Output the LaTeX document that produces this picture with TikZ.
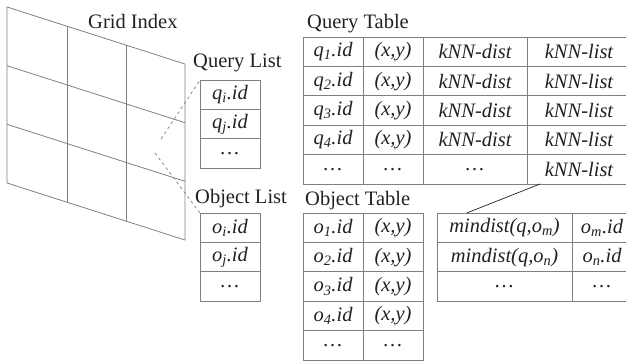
\documentclass[tikz,border=0pt]{standalone}
\usepackage{fontspec}
\setmainfont{Liberation Serif}
\usetikzlibrary{positioning,calc}
\definecolor{linegray}{rgb}{0.5,0.5,0.5}
\definecolor{textgray}{rgb}{0.13,0.13,0.13}

\begin{document}
\begin{tikzpicture}[x=1pt,y=-1pt]
    % Stili per griglia, celle e titoli
    \tikzset{
        gridline/.style={
            draw=linegray, % linee della griglia
            line width=0.8pt
        },
        cell/.style={
            draw=linegray, % bordo della cella
            line width=0.8pt,
            text=textgray,
            minimum height=29.4pt, % altezza della riga
            inner sep=0pt,
            outer sep=0pt,
            font=\fontsize{20.5}{21}\selectfont\itshape
        },
        narrow/.style={cell, minimum width=60pt},
        wide/.style={cell, minimum width=104pt},
        distcell/.style={cell, minimum width=135pt},
        title/.style={
            text=textgray,
            anchor=base west,
            inner sep=0pt,
            font=\fontsize{20.5}{21}\selectfont
        }
    }

    \path[use as bounding box, clip] (0,0) rectangle (626,360);

    % Griglia (indice)
    \draw[gridline] (7,7) -- (185,64) -- (185,240) -- (7,183) -- cycle;
    \draw[gridline] (67,26.2) -- (67,202.2);
    \draw[gridline] (126,45.1) -- (126,221.1);
    \draw[gridline] (7,65.7) -- (185,122.7);
    \draw[gridline] (7,124.3) -- (185,181.3);
    \coordinate (cellq) at (161,139);
    \coordinate (cello) at (155,153);
    \node[title] (grid_name) at (88,28) {Grid Index};

    % Lista delle query
    \node[title] (qlist_name) at (193,67) {Query List};
    \node[narrow] (ql1) at (230,94.7) {q\textsubscript{i}.id};
    \node[narrow] (ql2) at (230,124.1) {q\textsubscript{j}.id};
    \node[narrow] (ql3) at (230,153.5) {\dots};

    % Lista degli oggetti
    \node[title] (olist_name) at (195,203) {Object List};
    \node[narrow] (ol1) at (230,227.7) {o\textsubscript{i}.id};
    \node[narrow] (ol2) at (230,257.1) {o\textsubscript{j}.id};
    \node[narrow] (ol3) at (230,286.5) {\dots};

    % Collegamenti tratteggiati dalla cella
    \draw[dashed, color=linegray, line width=0.7pt] (cellq) -- (ql1.north west);
    \draw[dashed, color=linegray, line width=0.7pt] (cello) -- (ol1.north west);

    % Tabella delle query
    \node[title] (qtable_name) at (307,28) {Query Table};
    \node[narrow] (q11) at (333,51.7) {q\textsubscript{1}.id};
    \node[narrow] (q12) at (393,51.7) {(x,y)};
    \node[wide] (q13) at (475,51.7) {kNN-dist};
    \node[wide] (q14) at (579,51.7) {kNN-list};

    \node[narrow] (q21) at (333,81.1) {q\textsubscript{2}.id};
    \node[narrow] (q22) at (393,81.1) {(x,y)};
    \node[wide] (q23) at (475,81.1) {kNN-dist};
    \node[wide] (q24) at (579,81.1) {kNN-list};

    \node[narrow] (q31) at (333,110.5) {q\textsubscript{3}.id};
    \node[narrow] (q32) at (393,110.5) {(x,y)};
    \node[wide] (q33) at (475,110.5) {kNN-dist};
    \node[wide] (q34) at (579,110.5) {kNN-list};

    \node[narrow] (q41) at (333,139.9) {q\textsubscript{4}.id};
    \node[narrow] (q42) at (393,139.9) {(x,y)};
    \node[wide] (q43) at (475,139.9) {kNN-dist};
    \node[wide] (q44) at (579,139.9) {kNN-list};

    \node[narrow] (q51) at (333,169.3) {\dots};
    \node[narrow] (q52) at (393,169.3) {\dots};
    \node[wide] (q53) at (475,169.3) {\dots};
    \node[wide] (q54) at (579,169.3) {kNN-list};

    % Tabella degli oggetti
    \node[title] (otable_name) at (305,205) {Object Table};
    \node[narrow] (o11) at (333,227.7) {o\textsubscript{1}.id};
    \node[narrow] (o12) at (393,227.7) {(x,y)};
    \node[narrow] (o21) at (333,257.1) {o\textsubscript{2}.id};
    \node[narrow] (o22) at (393,257.1) {(x,y)};
    \node[narrow] (o31) at (333,286.5) {o\textsubscript{3}.id};
    \node[narrow] (o32) at (393,286.5) {(x,y)};
    \node[narrow] (o41) at (333,315.9) {o\textsubscript{4}.id};
    \node[narrow] (o42) at (393,315.9) {(x,y)};
    \node[narrow] (o51) at (333,345.3) {\dots};
    \node[narrow] (o52) at (393,345.3) {\dots};

    % Lista kNN di una query
    \node[distcell] (m11) at (504.5,227.7) {mindist(q,o\textsubscript{m})};
    \node[narrow] (m12) at (602,227.7) {o\textsubscript{m}.id};
    \node[distcell] (m21) at (504.5,257.1) {mindist(q,o\textsubscript{n})};
    \node[narrow] (m22) at (602,257.1) {o\textsubscript{n}.id};
    \node[distcell] (m31) at (504.5,286.5) {\dots};
    \node[narrow] (m32) at (602,286.5) {\dots};

    \draw[color=textgray, line width=0.7pt] ($(m11.north west)!0.22!(m11.north east)$) -- ($(q54.south west)!0.125!(q54.south east)$);

\end{tikzpicture}
\end{document}
